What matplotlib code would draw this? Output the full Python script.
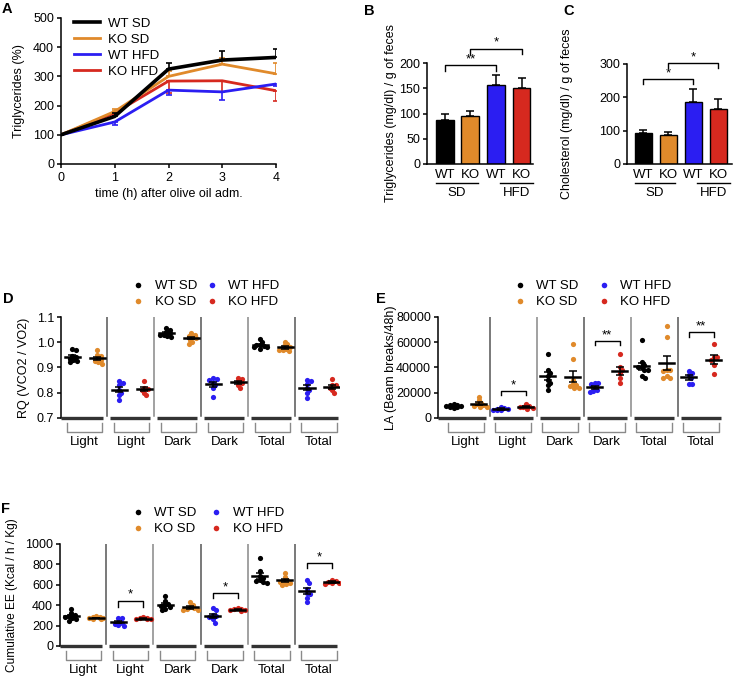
import numpy as np
import matplotlib
matplotlib.use('Agg')
import matplotlib.pyplot as plt
from matplotlib.lines import Line2D

plt.rcParams['font.family'] = ['Liberation Sans', 'DejaVu Sans']
plt.rcParams['font.size'] = 9
plt.rcParams['axes.linewidth'] = 1.1
plt.rcParams['xtick.major.width'] = 1.1
plt.rcParams['ytick.major.width'] = 1.1
plt.rcParams['ytick.major.size'] = 3
plt.rcParams['xtick.major.size'] = 3
plt.rcParams['xtick.major.pad'] = 2.5
plt.rcParams['ytick.major.pad'] = 2

W, H = 738, 683

SERIES = ['WT SD', 'KO SD', 'WT HFD', 'KO HFD']
COLORS = ['#000000', '#E08A2B', '#2B1EF2', '#D6291F']

# --- A: triglycerides after olive oil (% of t0) ---
HOURS = [0, 1, 2, 3, 4]
TG_WT_SD = [100, 163, 325, 356, 365]
TG_KO_SD = [100, 180, 300, 342, 309]
TG_WT_HFD = [100, 144, 253, 247, 274]
TG_KO_HFD = [100, 175, 284, 285, 251]
TG_WT_SD_ERR = [0, 10, 22, 31, 28]      # drawn upward
TG_KO_SD_ERR = [0, 8, 20, 20, 36]       # drawn upward
TG_WT_HFD_ERR = [0, 10, 18, 27, 8]      # drawn downward
TG_KO_HFD_ERR = [0, 8, 40, 38, 35]      # drawn downward

# --- B, C: feces lipids ---
BAR_TICKS = ['WT', 'KO', 'WT', 'KO']
FECES_TG = [88, 95, 157, 150]
FECES_TG_ERR = [11, 9, 19, 20]
FECES_CHOL = [92, 88, 187, 166]
FECES_CHOL_ERR = [10, 7, 37, 30]

# --- D, E, F: metabolic cage, per period ---
GROUP_LABELS = ['Light', 'Light', 'Dark', 'Dark', 'Total', 'Total']
GROUP_SERIES = [(0, 1), (2, 3), (0, 1), (2, 3), (0, 1), (2, 3)]

RQ = [
    [0.972, 0.970, 0.945, 0.935, 0.928, 0.920, 0.925, 0.940],
    [0.970, 0.950, 0.945, 0.935, 0.925, 0.915, 0.920, 0.930],
    [0.848, 0.840, 0.830, 0.810, 0.800, 0.790, 0.770],
    [0.845, 0.820, 0.815, 0.810, 0.800, 0.790],
    [1.055, 1.050, 1.040, 1.030, 1.025, 1.020, 1.030, 1.035],
    [1.035, 1.030, 1.025, 1.020, 1.010, 1.000, 0.995, 1.015],
    [0.858, 0.855, 0.850, 0.840, 0.830, 0.820, 0.785],
    [0.860, 0.855, 0.845, 0.840, 0.830, 0.820],
    [1.012, 1.000, 0.990, 0.985, 0.980, 0.975, 0.980, 0.990],
    [1.002, 0.992, 0.985, 0.975, 0.970, 0.965, 0.968, 0.980],
    [0.852, 0.845, 0.835, 0.820, 0.810, 0.800, 0.778],
    [0.855, 0.832, 0.830, 0.820, 0.810, 0.800],
]

LA = [
    [11000, 10500, 10000, 9500, 9000, 8500, 8000, 9200],
    [17000, 14000, 12000, 11000, 10000, 9500, 9000, 8500],
    [9000, 8000, 7000, 6500, 6000, 6000, 7500],
    [11000, 9500, 9000, 8500, 8000, 7500],
    [51000, 38000, 36000, 33000, 30000, 28000, 26000, 22000],
    [59000, 47000, 30000, 27000, 25000, 24000, 24000, 26000],
    [28000, 27500, 27000, 24000, 22000, 21000, 20500],
    [51000, 40000, 38000, 36000, 32000, 28000],
    [62000, 44000, 42000, 40000, 40000, 38000, 38000, 32000, 33000],
    [72500, 64000, 38000, 38000, 37000, 33000, 32000, 32000],
    [37000, 36000, 34000, 32000, 27000, 27000],
    [59000, 48000, 48000, 46000, 42000, 35000],
]

EE = [
    [365, 320, 300, 290, 280, 270, 260, 250],
    [290, 285, 280, 275, 270, 265, 260, 275],
    [275, 270, 240, 230, 220, 205, 200],
    [280, 275, 270, 265, 260, 262],
    [495, 440, 410, 400, 390, 380, 360, 355],
    [430, 405, 380, 370, 360, 355, 350],
    [370, 350, 300, 290, 280, 260, 230],
    [370, 365, 360, 355, 350, 345],
    [865, 740, 690, 670, 650, 640, 630, 620],
    [720, 680, 650, 640, 630, 620, 610, 600],
    [650, 620, 560, 520, 510, 470, 430],
    [650, 640, 630, 620, 615, 610],
]

# significance brackets: (group, top, tail, label)
LA_SIG = [(1, 21400, 18200, '*'), (3, 61000, 57800, '**'), (5, 68000, 64000, '**')]
EE_SIG = [(1, 444, 385, '*'), (3, 516, 467, '*'), (5, 812, 763, '*')]

fig = plt.figure(figsize=(W / 100, H / 100), dpi=100)


def add_ax(left, top, right, bottom):
    ax = fig.add_axes([left / W, 1 - bottom / H, (right - left) / W, (bottom - top) / H])
    ax.px_h = bottom - top
    ax.px_l = left
    ax.px_w = right - left
    ax.spines['top'].set_visible(False)
    ax.spines['right'].set_visible(False)
    return ax


def place_ylabel(ax, text, x_px, size=None):
    # centre of the rotated label at a fixed pixel column
    ax.set_ylabel(text, fontsize=size)
    ax.yaxis.set_label_coords((x_px - ax.px_l) / ax.px_w, 0.5)


def panel_letter(x, y, s):
    fig.text(x / W, 1 - y / H, s, fontsize=10.5, fontweight='bold', va='top', ha='left')


# ---------------- A ----------------
axA = add_ax(61, 18, 276, 164)
a_series = [(TG_WT_SD, TG_WT_SD_ERR, True), (TG_KO_SD, TG_KO_SD_ERR, True),
            (TG_WT_HFD, TG_WT_HFD_ERR, False), (TG_KO_HFD, TG_KO_HFD_ERR, False)]
for i in [3, 2, 1, 0]:
    vals, err, up = a_series[i]
    zeros = [0] * len(err)
    yerr = [zeros, err] if up else [err, zeros]
    axA.errorbar(HOURS, vals, yerr=yerr, color=COLORS[i], lw=2.6 if i == 0 else 2.0,
                 capsize=2.5, elinewidth=1.2, capthick=1.2, label=SERIES[i], zorder=5 - i)
axA.set_xlim(0, 4)
axA.set_ylim(0, 500)
axA.set_xticks(HOURS)
axA.set_yticks([0, 100, 200, 300, 400, 500])
axA.set_xlabel('time (h) after olive oil adm.', labelpad=3)
place_ylabel(axA, 'Triglycerides (%)', 25)
handles = [Line2D([], [], color=COLORS[i], lw=2.6 if i == 0 else 2.0) for i in range(4)]
axA.legend(handles, SERIES, loc='upper left', bbox_to_anchor=(0.03, 1.05), frameon=False,
           fontsize=9.5, handlelength=2.0, handletextpad=0.55, labelspacing=0.3, borderpad=0)
panel_letter(2, 2, 'A')


# ---------------- B, C ----------------
def bar_panel(ax, vals, errs, ymax, yticks, ylabel, label_x, sigs, xlim):
    x = np.arange(4)
    ax.bar(x, vals, width=0.7, color=COLORS, edgecolor='black', linewidth=1.0, zorder=2)
    ax.errorbar(x, vals, yerr=[[0] * 4, errs], fmt='none', ecolor='black',
                elinewidth=1.1, capsize=3, capthick=1.1, zorder=3)
    ax.set_xlim(*xlim)
    ax.set_ylim(0, ymax)
    ax.set_yticks(yticks)
    ax.set_xticks([])
    place_ylabel(ax, ylabel, label_x)
    tr = ax.get_xaxis_transform()
    for xi, lab in zip(x, BAR_TICKS):
        ax.text(xi, -11 / ax.px_h, lab, transform=tr, ha='center', va='center', fontsize=9.5)
    for (x0, x1), lab in [((-0.35, 1.28), 'SD'), ((2.15, 3.45), 'HFD')]:
        ax.plot([x0, x1], [-19 / ax.px_h] * 2, transform=tr, color='black', lw=1.0, clip_on=False)
        ax.text((x0 + x1) / 2, -29 / ax.px_h, lab, transform=tr, ha='center', va='center', fontsize=9.5)
    for x0, x1, top, tail, lab in sigs:
        ax.plot([x0, x0, x1, x1], [tail, top, top, tail], color='black', lw=1.0, clip_on=False)
        ax.text((x0 + x1) / 2, top, lab, ha='center', va='bottom', fontsize=9.5)


axB = add_ax(427, 63, 533, 164)
bar_panel(axB, FECES_TG, FECES_TG_ERR, 200, [0, 50, 100, 150, 200],
          'Triglycerides (mg/dl) / g of feces', 397,
          [(0, 2, 196, 185, '**'), (1, 3, 228, 217, '*')], (-0.7, 3.45))
panel_letter(364, 4, 'B')

axC = add_ax(627, 64, 732, 164)
bar_panel(axC, FECES_CHOL, FECES_CHOL_ERR, 300, [0, 100, 200, 300],
          'Cholesterol (mg/dl) / g of feces', 573,
          [(0, 2, 255, 240, '*'), (1, 3, 303, 287, '*')], (-0.65, 3.55))
panel_letter(563, 4, 'C')


# ---------------- D, E, F ----------------
GROUP_STEP = 1.88


def swarm(values, y_px_per_unit, d=3.4, limit=8.5):
    # spread dots sideways only as much as needed, clusters may overlap a bit
    order = np.argsort(values)[::-1]
    placed = []
    offs = np.zeros(len(values))
    cands = [0] + [s * k * 1.2 for k in range(1, 8) for s in (1, -1)]
    for i in order:
        y = values[i] * y_px_per_unit
        best = cands[0]
        for c in cands:
            if all((c - px) ** 2 + (y - py) ** 2 >= d * d for px, py in placed):
                best = c
                break
        else:
            best = cands[len(placed) % len(cands)]
        best = max(-limit, min(limit, best))
        placed.append((best, y))
        offs[i] = best / 25.0
    return offs


def scatter_panel(ax, data, ylim, yticks, ylabel, label_x, sigs, xlim, seg, sep,
                  ticklabels=None, label_size=None):
    ax.spines['bottom'].set_visible(False)
    y_ppu = ax.px_h / (ylim[1] - ylim[0])
    tr = ax.get_xaxis_transform()
    for g in range(6):
        c = g * GROUP_STEP
        for k, s in enumerate(GROUP_SERIES[g]):
            vals = np.array(data[2 * g + k], dtype=float)
            xc = c - 0.5 + k
            ax.scatter(xc + swarm(vals, y_ppu), vals, s=14, color=COLORS[s], lw=0, zorder=3)
            m = vals.mean()
            sem = vals.std(ddof=1) / np.sqrt(len(vals))
            ax.plot([xc - 0.3, xc + 0.3], [m, m], color='black', lw=1.8, zorder=4)
            ax.errorbar([xc], [m], yerr=[[sem], [sem]], fmt='none', ecolor='black',
                        elinewidth=1.1, capsize=3, capthick=1.1, zorder=4)
        left = xlim[0] if g == 0 else c - seg[0]
        ax.plot([left, c + seg[1]], [0, 0], transform=tr, color='#333333', lw=2.4,
                clip_on=False, solid_capstyle='butt')
        if g < 5:
            ax.plot([c + sep, c + sep], [0.02, 1.0], transform=tr,
                    color='#555555' if g % 2 == 0 else '#888888', lw=1.1)
        yb0, yb1 = -5 / ax.px_h, -14 / ax.px_h
        ax.plot([c - 0.72, c - 0.72, c + 0.7, c + 0.7], [yb0, yb1, yb1, yb0], transform=tr,
                color='#8a8a8a', lw=1.0, clip_on=False)
        ax.text(c - 0.02, -24 / ax.px_h, GROUP_LABELS[g], transform=tr, ha='center',
                va='center', fontsize=9.5)
    for g, top, tail, lab in sigs:
        c = g * GROUP_STEP
        ax.plot([c - 0.5, c - 0.5, c + 0.5, c + 0.5], [tail, top, top, tail], color='black', lw=1.0)
        ax.text(c, top, lab, ha='center', va='bottom', fontsize=9.5)
    ax.set_xlim(*xlim)
    ax.set_ylim(*ylim)
    ax.set_xticks([])
    ax.set_yticks(yticks)
    if ticklabels is not None:
        ax.set_yticklabels(ticklabels)
    place_ylabel(ax, ylabel, label_x, label_size)


def dot_legend(ax, anchor, colsp):
    hs = [Line2D([], [], ls='none', marker='o', ms=4, mew=0, color=COLORS[i]) for i in range(4)]
    ax.legend(hs, SERIES, ncol=2, loc='lower left', bbox_to_anchor=anchor, frameon=False,
              fontsize=9.5, handlelength=1.0, handletextpad=0.75, labelspacing=0.3,
              columnspacing=colsp, borderpad=0)


axD = add_ax(61, 317, 340, 418)
scatter_panel(axD, RQ, (0.7, 1.1), [0.7, 0.8, 0.9, 1.0, 1.1], 'RQ (VCO2 / VO2)', 30, [],
              (-0.94, 10.22), (0.86, 0.72), 0.9,
              ['0.7', '0.8', '0.9', '1.0', '1.1'])
dot_legend(axD, (0.23, 1.02), 0.6)
panel_letter(3, 292, 'D')

axE = add_ax(438, 317, 723, 418)
scatter_panel(axE, LA, (0, 80000), [0, 20000, 40000, 60000, 80000], 'LA (Beam breaks/48h)', 397,
              LA_SIG, (-1.12, 10.28), (0.8, 0.8), 0.96)
dot_legend(axE, (0.24, 1.02), 1.4)
panel_letter(376, 292, 'E')

axF = add_ax(60, 544, 340, 646)
scatter_panel(axF, EE, (0, 1000), [0, 200, 400, 600, 800, 1000], 'Cumulative EE (Kcal / h / Kg)', 18,
              EE_SIG, (-0.94, 10.22), (0.86, 0.72), 0.9, label_size=8.6)
dot_legend(axF, (0.23, 1.02), 1.0)
panel_letter(1, 502, 'F')

fig.savefig('out.png', dpi=100)
